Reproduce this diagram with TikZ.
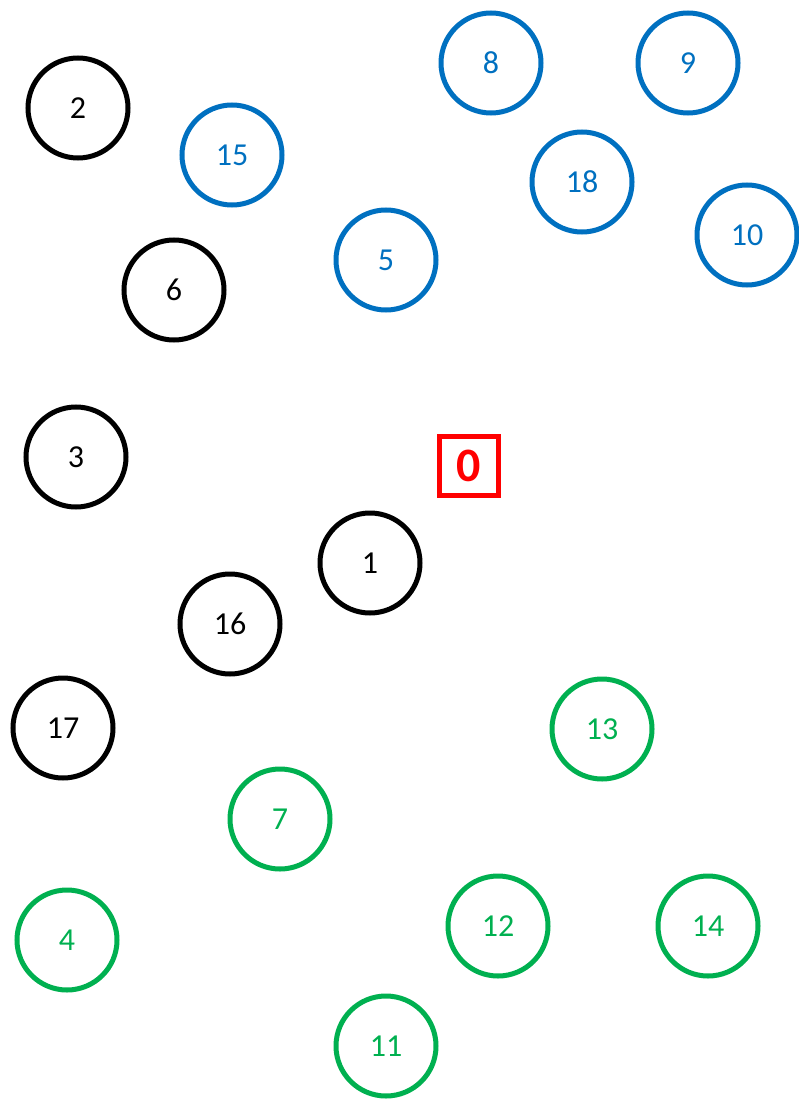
\documentclass[tikz,border=0pt]{standalone}
\usepackage{fontspec}
\setmainfont{Carlito}
\usepackage{xcolor}
\definecolor{grpblue}{RGB}{0, 112, 192}
\definecolor{grpgreen}{RGB}{0, 176, 80}
\definecolor{grpred}{RGB}{255, 0, 0}
\begin{document}
\begin{tikzpicture}[x=1pt, y=-1pt,
  site/.style={circle, draw, line width=5pt, minimum size=100pt,
    inner sep=0pt, font=\fontsize{32}{36}\selectfont},
  blk/.style={site, draw=black, text=black},
  blu/.style={site, draw=grpblue, text=grpblue},
  grn/.style={site, draw=grpgreen, text=grpgreen},
  depot/.style={rectangle, draw=grpred, text=grpred, line width=5pt,
    minimum size=59pt, inner sep=0pt, font=\fontsize{48}{52}\selectfont\bfseries}
]
  \useasboundingbox (0,0) rectangle (798,1099);
  % depot
  \node[depot] (n0) at (469,466) {0};
  % black group
  \node[blk] (n2)  at (78,108)  {2};
  \node[blk] (n6)  at (174,290) {6};
  \node[blk] (n3)  at (76,457)  {3};
  \node[blk] (n1)  at (370,563) {1};
  \node[blk] (n16) at (230,624) {16};
  \node[blk] (n17) at (63,728)  {17};
  % blue group
  \node[blu] (n15) at (232,155) {15};
  \node[blu] (n8)  at (491,63)  {8};
  \node[blu] (n9)  at (688,63)  {9};
  \node[blu] (n18) at (582,182) {18};
  \node[blu] (n10) at (747,235) {10};
  \node[blu] (n5)  at (386,260) {5};
  % green group
  \node[grn] (n13) at (602,729) {13};
  \node[grn] (n7)  at (280,819) {7};
  \node[grn] (n4)  at (67,940)  {4};
  \node[grn] (n12) at (498,926) {12};
  \node[grn] (n14) at (708,926) {14};
  \node[grn] (n11) at (386,1046) {11};
\end{tikzpicture}
\end{document}
